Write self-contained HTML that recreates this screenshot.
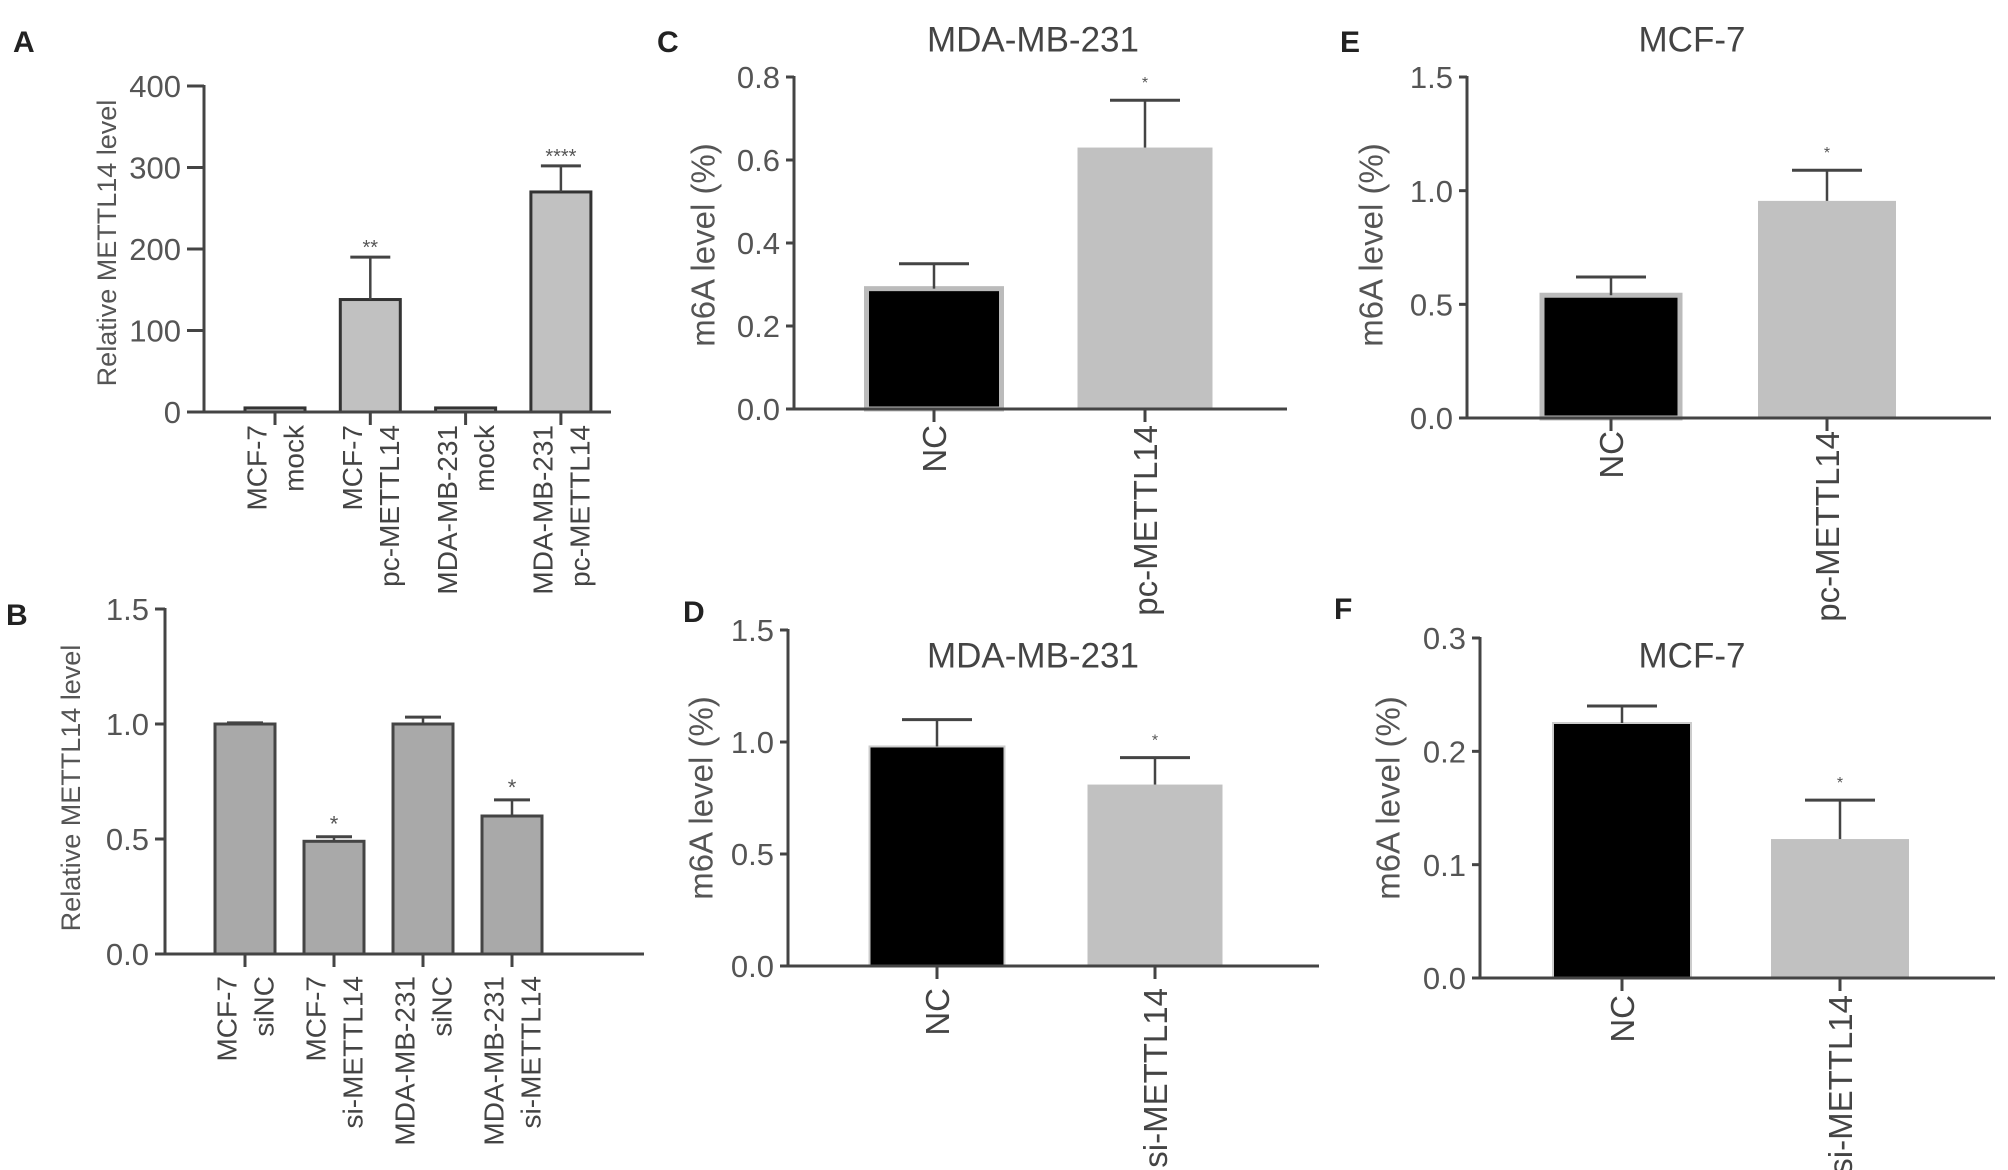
<!DOCTYPE html>
<html><head><meta charset="utf-8"><style>
html,body{margin:0;padding:0;background:#fff;overflow:hidden;}
svg{display:block;font-family:"Liberation Sans",Arial,sans-serif;}
</style></head>
<body>
<svg id="fig" width="2008" height="1170" viewBox="0 0 2008 1170" xmlns="http://www.w3.org/2000/svg"></svg>
<script>
// ---- data ----
const catsA = [["MCF-7","mock"],["MCF-7","pc-METTL14"],["MDA-MB-231","mock"],["MDA-MB-231","pc-METTL14"]];
const valsA = [5, 138, 5, 270];
const errsA = [5, 190, 5, 302];
const starsA = ["", "**", "", "****"];
const ticksA = [0, 100, 200, 300, 400];
const tickLabelsA = ["0","100","200","300","400"];

const catsB = [["MCF-7","siNC"],["MCF-7","si-METTL14"],["MDA-MB-231","siNC"],["MDA-MB-231","si-METTL14"]];
const valsB = [1.0, 0.49, 1.0, 0.60];
const errsB = [1.005, 0.51, 1.03, 0.67];
const starsB = ["", "*", "", "*"];
const ticksB = [0, 0.5, 1.0, 1.5];
const tickLabelsB = ["0.0","0.5","1.0","1.5"];

const catsC = [["NC"],["pc-METTL14"]];
const valsC = [0.29, 0.63];
const errsC = [0.35, 0.744];
const starsC = ["", "*"];
const ticksC = [0, 0.2, 0.4, 0.6, 0.8];
const tickLabelsC = ["0.0","0.2","0.4","0.6","0.8"];

const catsD = [["NC"],["si-METTL14"]];
const valsD = [0.98, 0.81];
const errsD = [1.10, 0.93];
const starsD = ["", "*"];
const ticksD = [0, 0.5, 1.0, 1.5];
const tickLabelsD = ["0.0","0.5","1.0","1.5"];

const catsE = [["NC"],["pc-METTL14"]];
const valsE = [0.54, 0.955];
const errsE = [0.62, 1.09];
const starsE = ["", "*"];
const ticksE = [0, 0.5, 1.0, 1.5];
const tickLabelsE = ["0.0","0.5","1.0","1.5"];

const catsF = [["NC"],["si-METTL14"]];
const valsF = [0.225, 0.1226];
const errsF = [0.24, 0.157];
const starsF = ["", "*"];
const ticksF = [0, 0.1, 0.2, 0.3];
const tickLabelsF = ["0.0","0.1","0.2","0.3"];

// ---- drawing ----
const NS = "http://www.w3.org/2000/svg";
const svg = document.getElementById("fig");
function mk(tag, attrs, parent, text){
  const e = document.createElementNS(NS, tag);
  for (const k in attrs) e.setAttribute(k, attrs[k]);
  if (text !== undefined) e.textContent = text;
  (parent || svg).appendChild(e);
  return e;
}

function panel(cfg){
  const g = mk("g", {});
  
  
  const ymax = cfg.ticks[cfg.ticks.length-1];
  const yS = v => cfg.y0 - (v / ymax) * (cfg.y0 - cfg.yTop);
  const xS = i => cfg.firstTick + i * cfg.step;
  const ax = "#444";
  const L = mk("text", {x:cfg.letter[0], y:cfg.letter[1], "font-size":30, fill:"#222", "font-weight":"bold"}, g, cfg.id);
  
  
  if (cfg.title){
    const t = mk("text", {x:cfg.title[0], y:cfg.title[1], "font-size":35, fill:"#444", "text-anchor":"middle", "dominant-baseline":"central"}, g, cfg.title[2]);
    
    
  }
  const yt = mk("text", {x:0, y:0, "font-size":cfg.ytFs, fill:"#555", "text-anchor":"middle", "dominant-baseline":"central",
     transform:`translate(${cfg.yTitle[0]},${cfg.yTitle[1]}) rotate(-90)`}, g, cfg.yTitleText);
  
  
  cfg.vals.forEach((v, i) => {
    const cx = xS(i);
    const st = cfg.barStyle(i);
    const r = mk("rect", {x:cx - cfg.bw/2, y:yS(v), width:cfg.bw, height:cfg.y0 - yS(v), fill:st.fill, stroke:st.stroke, "stroke-width":st.sw}, g);
    
    
    const e = cfg.errs[i];
    if (e > v){
      const l = mk("line", {x1:cx, x2:cx, y1:yS(v), y2:yS(e), stroke:ax, "stroke-width":2.5}, g);
      
      
      const c = mk("line", {x1:cx - cfg.cap, x2:cx + cfg.cap, y1:yS(e), y2:yS(e), stroke:ax, "stroke-width":3}, g);
      
      
    }
    if (cfg.stars[i]){
      const s = mk("text", {x:cx, y:yS(e) + cfg.starOff, "font-size":cfg.starFs, fill:"#555", "text-anchor":"middle"}, g, cfg.stars[i]);
      
      
    }
    const xt = mk("line", {x1:cx, x2:cx, y1:cfg.y0, y2:cfg.y0 + 13, stroke:ax, "stroke-width":3}, g);
    
    
    const lines = cfg.cats[i];
    const n = lines.length;
    lines.forEach((ln, j) => {
      const bx = cx + 0.36*cfg.catFs + (j - (n-1)/2) * cfg.catLh;
      const ct = mk("text", {x:0, y:0, "font-size":cfg.catFs, fill:"#444", "text-anchor":"end",
        transform:`translate(${bx},${cfg.catTop}) rotate(-90)`}, g, ln);
      
      
    });
  });
  const ya = mk("line", {x1:cfg.xAxis, x2:cfg.xAxis, y1:cfg.yTop - 1, y2:cfg.y0 + 1.5, stroke:ax, "stroke-width":3}, g);
  
  
  const xa = mk("line", {x1:cfg.xAxis - cfg.tl, x2:cfg.xEnd, y1:cfg.y0, y2:cfg.y0, stroke:ax, "stroke-width":3}, g);
  
  
  cfg.ticks.forEach((t, k) => {
    const yy = yS(t);
    const tk = mk("line", {x1:cfg.xAxis - cfg.tl, x2:cfg.xAxis, y1:yy, y2:yy, stroke:ax, "stroke-width":3}, g);
    
    
    const tx = mk("text", {x:cfg.xAxis - cfg.tl - 6, y:yy + 0.36*cfg.tickFs, "font-size":cfg.tickFs, fill:"#555", "text-anchor":"end"}, g, cfg.tickLabels[k]);
    
    
  });
}

const grayBar = () => ({fill:"#c1c1c1", stroke:"#333", sw:3});
const midBar = () => ({fill:"#a9a9a9", stroke:"#444", sw:3});
const pairBar = i => i === 0 ? {fill:"#000", stroke:"#bbb", sw:5} : {fill:"#c1c1c1", stroke:"none", sw:0};
const pairBar2 = i => i === 0 ? {fill:"#000", stroke:"#ccc", sw:2} : {fill:"#c1c1c1", stroke:"none", sw:0};

panel({id:"A", letter:[13,52], xAxis:204, xEnd:611, yTop:86, y0:412, firstTick:275, step:95.3, bw:60, cap:20,
  vals:valsA, errs:errsA, stars:starsA, cats:catsA, ticks:ticksA, tickLabels:tickLabelsA, barStyle:grayBar,
  tl:17, tickFs:31, ytFs:27, yTitle:[107,243], yTitleText:"Relative METTL14 level", catFs:28, catLh:37, catTop:425, starFs:20, starOff:-3});
panel({id:"B", letter:[6,625], xAxis:165, xEnd:644, yTop:609, y0:954, firstTick:245, step:89, bw:60, cap:18,
  vals:valsB, errs:errsB, stars:starsB, cats:catsB, ticks:ticksB, tickLabels:tickLabelsB, barStyle:midBar,
  tl:10, tickFs:31, ytFs:27, yTitle:[71,788], yTitleText:"Relative METTL14 level", catFs:28, catLh:37, catTop:976, starFs:22, starOff:-5});
panel({id:"C", letter:[657,52], title:[1033,40,"MDA-MB-231"], xAxis:794, xEnd:1287, yTop:77, y0:409, firstTick:934, step:211, bw:135, cap:35,
  vals:valsC, errs:errsC, stars:starsC, cats:catsC, ticks:ticksC, tickLabels:tickLabelsC, barStyle:pairBar,
  tl:8, tickFs:31, ytFs:33, yTitle:[703,245], yTitleText:"m6A level (%)", catFs:33, catLh:40, catTop:425, starFs:16, starOff:-12});
panel({id:"D", letter:[683,622], title:[1033,656,"MDA-MB-231"], xAxis:788, xEnd:1319, yTop:630, y0:966, firstTick:937, step:218, bw:135, cap:35,
  vals:valsD, errs:errsD, stars:starsD, cats:catsD, ticks:ticksD, tickLabels:tickLabelsD, barStyle:pairBar2,
  tl:8, tickFs:31, ytFs:33, yTitle:[701,798], yTitleText:"m6A level (%)", catFs:33, catLh:40, catTop:988, starFs:16, starOff:-12});
panel({id:"E", letter:[1340,52], title:[1692,40,"MCF-7"], xAxis:1467, xEnd:1991, yTop:77, y0:418, firstTick:1611, step:216, bw:138, cap:35,
  vals:valsE, errs:errsE, stars:starsE, cats:catsE, ticks:ticksE, tickLabels:tickLabelsE, barStyle:pairBar,
  tl:8, tickFs:31, ytFs:33, yTitle:[1371,245], yTitleText:"m6A level (%)", catFs:33, catLh:40, catTop:431, starFs:16, starOff:-12});
panel({id:"F", letter:[1334,619], title:[1692,656,"MCF-7"], xAxis:1480, xEnd:1995, yTop:638, y0:978, firstTick:1622, step:218, bw:138, cap:35,
  vals:valsF, errs:errsF, stars:starsF, cats:catsF, ticks:ticksF, tickLabels:tickLabelsF, barStyle:pairBar2,
  tl:8, tickFs:31, ytFs:33, yTitle:[1388,798], yTitleText:"m6A level (%)", catFs:33, catLh:40, catTop:995, starFs:16, starOff:-12});
</script>
</body></html>
